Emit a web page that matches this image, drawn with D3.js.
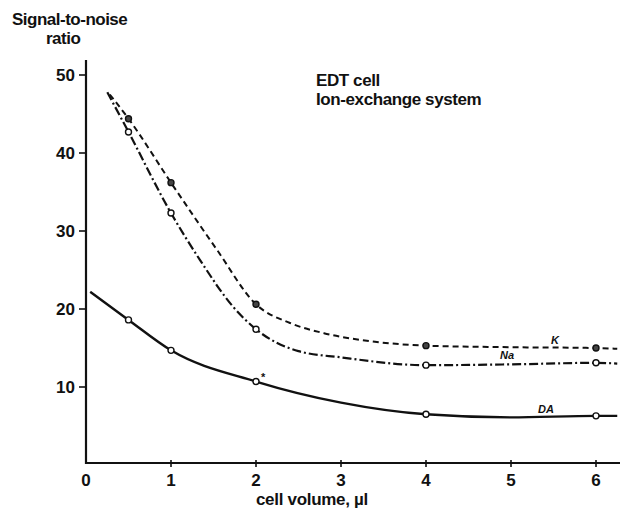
<!DOCTYPE html>
<html>
<head>
<meta charset="utf-8">
<script src="https://cdn.jsdelivr.net/npm/d3@7"></script>
<style>
  body { margin: 0; background: #fff; }
  text { font-family: "Liberation Sans", Arial, sans-serif; fill: #111; font-weight: bold; }
</style>
</head>
<body>
<svg class="chart" width="622" height="508"></svg>
<script>
// tick values
var xTicks = [0, 1, 2, 3, 4, 5, 6];
var yTicks = [10, 20, 30, 40, 50];

// curve traces [cell volume, S/N]
var curveK  = [[0.28, 47.5], [0.5, 44.4], [1, 36.2], [1.54, 27.6], [2, 20.6], [2.4, 18.2], [2.8, 16.9], [3.4, 15.8], [4, 15.3], [5, 15.1], [6, 15.0], [6.25, 14.9]];
var curveNa = [[0.25, 47.8], [0.5, 42.7], [1, 32.3], [1.34, 26.3], [1.73, 20.3], [2, 17.4], [2.5, 14.6], [3, 13.8], [4, 12.8], [5, 12.9], [6, 13.1], [6.25, 13.0]];
var curveDA = [[0.05, 22.2], [0.5, 18.6], [1, 14.7], [2, 10.7], [3, 8.0], [4, 6.5], [5, 6.1], [6, 6.3], [6.25, 6.3]];

// measured points (markers)
var ptsK  = [[0.5, 44.4], [1, 36.2], [2, 20.6], [4, 15.3], [6, 15.0]];
var ptsNa = [[0.5, 42.7], [1, 32.3], [2, 17.4], [4, 12.8], [6, 13.1]];
var ptsDA = [[0.5, 18.6], [1, 14.7], [2, 10.7], [4, 6.5], [6, 6.3]];

var svg = d3.select("svg.chart");

var x = d3.scaleLinear().domain([0, 6]).range([86, 596]);
var y = d3.scaleLinear().domain([0, 50]).range([465, 75]);

// axes
svg.append("line")
    .attr("x1", x(0)).attr("x2", 620)
    .attr("y1", 463).attr("y2", 463)
    .attr("stroke", "#111").attr("stroke-width", 2.2);
svg.append("line")
    .attr("x1", 86).attr("x2", 86)
    .attr("y1", 60).attr("y2", 464)
    .attr("stroke", "#111").attr("stroke-width", 2.2);

// y ticks
svg.selectAll("line.ytick")
    .data(yTicks)
  .enter().append("line")
    .attr("class", "ytick")
    .attr("x1", 79).attr("x2", 86)
    .attr("y1", function(d) { return y(d); })
    .attr("y2", function(d) { return y(d); })
    .attr("stroke", "#111").attr("stroke-width", 1.6);
svg.selectAll("text.ylab")
    .data(yTicks)
  .enter().append("text")
    .attr("class", "ylab")
    .attr("x", 75)
    .attr("y", function(d) { return y(d) + 6; })
    .attr("text-anchor", "end")
    .style("font-size", "17px")
    .text(function(d) { return d; });

// x ticks
svg.selectAll("line.xtick")
    .data(xTicks.slice(1))
  .enter().append("line")
    .attr("class", "xtick")
    .attr("x1", function(d) { return x(d); })
    .attr("x2", function(d) { return x(d); })
    .attr("y1", 460).attr("y2", 467)
    .attr("stroke", "#111").attr("stroke-width", 1.6);
svg.selectAll("text.xlab")
    .data(xTicks)
  .enter().append("text")
    .attr("class", "xlab")
    .attr("x", function(d) { return x(d); })
    .attr("y", 486)
    .attr("text-anchor", "middle")
    .style("font-size", "17px")
    .text(function(d) { return d; });

// axis titles
svg.append("text").attr("x", 12).attr("y", 25)
    .style("font-size", "17px").style("letter-spacing", "-0.5px")
    .text("Signal-to-noise");
svg.append("text").attr("x", 46).attr("y", 44)
    .style("font-size", "17px").style("letter-spacing", "-0.5px")
    .text("ratio");
svg.append("text").attr("x", 312).attr("y", 505)
    .attr("text-anchor", "middle")
    .style("font-size", "17px").style("letter-spacing", "-0.3px")
    .text("cell volume, \u00b5l");

// annotation
svg.append("text").attr("x", 316).attr("y", 86)
    .style("font-size", "17px").style("letter-spacing", "-0.4px")
    .text("EDT cell");
svg.append("text").attr("x", 316).attr("y", 105)
    .style("font-size", "17px").style("letter-spacing", "-0.4px")
    .text("Ion-exchange  system");

// curves
var line = d3.line()
    .x(function(d) { return x(d[0]); })
    .y(function(d) { return y(d[1]); })
    .curve(d3.curveMonotoneX);

svg.append("path").datum(curveK)
    .attr("d", line).attr("fill", "none")
    .attr("stroke", "#111").attr("stroke-width", 2)
    .attr("stroke-dasharray", "6,4");
svg.append("path").datum(curveNa)
    .attr("d", line).attr("fill", "none")
    .attr("stroke", "#111").attr("stroke-width", 2.2)
    .attr("stroke-dasharray", "9,3,2,3");
svg.append("path").datum(curveDA)
    .attr("d", line).attr("fill", "none")
    .attr("stroke", "#111").attr("stroke-width", 2.4);

// markers
svg.selectAll("circle.k")
    .data(ptsK)
  .enter().append("circle")
    .attr("class", "k")
    .attr("cx", function(d) { return x(d[0]); })
    .attr("cy", function(d) { return y(d[1]); })
    .attr("r", 3)
    .style("fill", "#444").style("stroke", "#111").style("stroke-width", 1.4);
svg.selectAll("circle.na")
    .data(ptsNa)
  .enter().append("circle")
    .attr("class", "na")
    .attr("cx", function(d) { return x(d[0]); })
    .attr("cy", function(d) { return y(d[1]); })
    .attr("r", 3)
    .style("fill", "#fff").style("stroke", "#111").style("stroke-width", 1.4);
svg.selectAll("circle.da")
    .data(ptsDA)
  .enter().append("circle")
    .attr("class", "da")
    .attr("cx", function(d) { return x(d[0]); })
    .attr("cy", function(d) { return y(d[1]); })
    .attr("r", 3)
    .style("fill", "#fff").style("stroke", "#111").style("stroke-width", 1.4);

// curve labels
svg.append("text").attr("x", 551).attr("y", 344)
    .style("font-size", "11px").style("font-style", "italic")
    .text("K");
svg.append("text").attr("x", 500).attr("y", 359)
    .style("font-size", "11px").style("font-style", "italic")
    .text("Na");
svg.append("text").attr("x", 538).attr("y", 413)
    .style("font-size", "11px").style("font-style", "italic")
    .text("DA");
svg.append("text").attr("x", 261).attr("y", 381)
    .style("font-size", "11px")
    .text("*");
</script>
</body>
</html>
